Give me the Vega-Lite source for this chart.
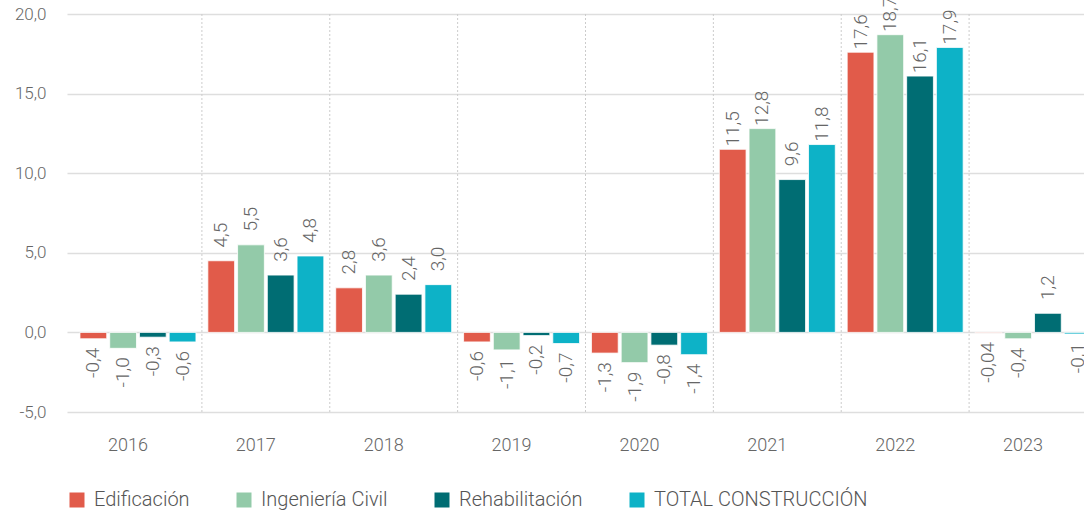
{
  "$schema": "https://vega.github.io/schema/vega-lite/v6.json",
  "width": 1017,
  "height": 398,
  "autosize": "none",
  "padding": {"left": 67, "top": 14, "right": 0, "bottom": 98},
  "background": "#ffffff",
  "config": {
    "locale": {"number": {"decimal": ",", "thousands": ".", "grouping": [3], "currency": ["", " €"], "minus": "-"}},
    "view": {"stroke": null},
    "font": "Roboto"
  },
  "data": {
    "values": [
      {"year": "2016", "serie": "Edificación", "value": -0.4, "label": "-0,4"},
      {"year": "2016", "serie": "Ingeniería Civil", "value": -1.0, "label": "-1,0"},
      {"year": "2016", "serie": "Rehabilitación", "value": -0.3, "label": "-0,3"},
      {"year": "2016", "serie": "TOTAL CONSTRUCCIÓN", "value": -0.6, "label": "-0,6"},
      {"year": "2017", "serie": "Edificación", "value": 4.5, "label": "4,5"},
      {"year": "2017", "serie": "Ingeniería Civil", "value": 5.5, "label": "5,5"},
      {"year": "2017", "serie": "Rehabilitación", "value": 3.6, "label": "3,6"},
      {"year": "2017", "serie": "TOTAL CONSTRUCCIÓN", "value": 4.8, "label": "4,8"},
      {"year": "2018", "serie": "Edificación", "value": 2.8, "label": "2,8"},
      {"year": "2018", "serie": "Ingeniería Civil", "value": 3.6, "label": "3,6"},
      {"year": "2018", "serie": "Rehabilitación", "value": 2.4, "label": "2,4"},
      {"year": "2018", "serie": "TOTAL CONSTRUCCIÓN", "value": 3.0, "label": "3,0"},
      {"year": "2019", "serie": "Edificación", "value": -0.6, "label": "-0,6"},
      {"year": "2019", "serie": "Ingeniería Civil", "value": -1.1, "label": "-1,1"},
      {"year": "2019", "serie": "Rehabilitación", "value": -0.2, "label": "-0,2"},
      {"year": "2019", "serie": "TOTAL CONSTRUCCIÓN", "value": -0.7, "label": "-0,7"},
      {"year": "2020", "serie": "Edificación", "value": -1.3, "label": "-1,3"},
      {"year": "2020", "serie": "Ingeniería Civil", "value": -1.9, "label": "-1,9"},
      {"year": "2020", "serie": "Rehabilitación", "value": -0.8, "label": "-0,8"},
      {"year": "2020", "serie": "TOTAL CONSTRUCCIÓN", "value": -1.4, "label": "-1,4"},
      {"year": "2021", "serie": "Edificación", "value": 11.5, "label": "11,5"},
      {"year": "2021", "serie": "Ingeniería Civil", "value": 12.8, "label": "12,8"},
      {"year": "2021", "serie": "Rehabilitación", "value": 9.6, "label": "9,6"},
      {"year": "2021", "serie": "TOTAL CONSTRUCCIÓN", "value": 11.8, "label": "11,8"},
      {"year": "2022", "serie": "Edificación", "value": 17.6, "label": "17,6"},
      {"year": "2022", "serie": "Ingeniería Civil", "value": 18.7, "label": "18,7"},
      {"year": "2022", "serie": "Rehabilitación", "value": 16.1, "label": "16,1"},
      {"year": "2022", "serie": "TOTAL CONSTRUCCIÓN", "value": 17.9, "label": "17,9"},
      {"year": "2023", "serie": "Edificación", "value": -0.04, "label": "-0,04"},
      {"year": "2023", "serie": "Ingeniería Civil", "value": -0.4, "label": "-0,4"},
      {"year": "2023", "serie": "Rehabilitación", "value": 1.2, "label": "1,2"},
      {"year": "2023", "serie": "TOTAL CONSTRUCCIÓN", "value": -0.1, "label": "-0,1"}
    ]
  },
  "encoding": {
    "x": {
      "field": "year", "type": "nominal", "title": null,
      "scale": {"type": "band", "paddingInner": 0, "paddingOuter": 0.055, "range": [0, 1037]},
      "axis": {
        "labelAngle": 0, "labelOffset": -10, "labelPadding": 24, "labelFontSize": 18, "labelColor": "#666666",
        "labelFont": "Roboto", "labelFontWeight": 300,
        "domain": false, "ticks": false, "grid": false
      }
    }
  },
  "layer": [
    {
      "transform": [{"filter": "datum.serie === 'Edificación'"}],
      "mark": {"type": "rule", "color": "#cccccc", "strokeDash": [2, 2], "strokeWidth": 1},
      "encoding": {
        "x": {"field": "year", "type": "nominal", "bandPosition": 1}
      }
    },
    {
      "mark": {"type": "bar", "stroke": "#ffffff", "strokeWidth": 0.8},
      "encoding": {
        "xOffset": {
          "field": "serie", "type": "nominal",
          "sort": ["Edificación", "Ingeniería Civil", "Rehabilitación", "TOTAL CONSTRUCCIÓN"],
          "scale": {"paddingInner": 0.1, "paddingOuter": 0.2}
        },
        "y": {
          "field": "value", "type": "quantitative", "title": null,
          "scale": {"domain": [-5, 20], "nice": false, "zero": false},
          "axis": {
            "values": [-5, 0, 5, 10, 15, 20], "format": ".1f",
            "labelFontSize": 17, "labelColor": "#666666", "labelFont": "Roboto", "labelFontWeight": 300,
            "labelPadding": 21, "domain": false, "ticks": false,
            "grid": true, "gridColor": "#dedede", "gridWidth": 1.5
          }
        },
        "color": {
          "field": "serie", "type": "nominal",
          "scale": {
            "domain": ["Edificación", "Ingeniería Civil", "Rehabilitación", "TOTAL CONSTRUCCIÓN"],
            "range": ["#e15b4a", "#93caa9", "#006d73", "#0db2c7"]
          },
          "legend": {
            "title": null, "orient": "none", "direction": "horizontal", "columns": 4,
            "legendX": 0, "legendY": 476, "padding": 0,
            "symbolType": "square", "symbolSize": 225, "symbolStrokeWidth": 0, "symbolOpacity": 1,
            "labelFontSize": 20, "labelColor": "#555555", "labelFont": "Roboto", "labelFontWeight": 300,
            "labelOffset": 7, "columnPadding": 44, "labelLimit": 400
          }
        }
      }
    },
    {
      "transform": [{"filter": "datum.value >= 0"}],
      "mark": {"type": "text", "angle": 270, "align": "right", "baseline": "middle", "dx": 38, "fontSize": 19, "font": "Roboto", "fontWeight": 300, "color": "#666666"},
      "encoding": {
        "xOffset": {
          "field": "serie", "type": "nominal",
          "sort": ["Edificación", "Ingeniería Civil", "Rehabilitación", "TOTAL CONSTRUCCIÓN"]
        },
        "y": {"field": "value", "type": "quantitative"},
        "text": {"field": "label"}
      }
    },
    {
      "transform": [{"filter": "datum.value < 0"}],
      "mark": {"type": "text", "angle": 270, "align": "right", "baseline": "middle", "dx": -9, "fontSize": 19, "font": "Roboto", "fontWeight": 300, "color": "#666666"},
      "encoding": {
        "xOffset": {
          "field": "serie", "type": "nominal",
          "sort": ["Edificación", "Ingeniería Civil", "Rehabilitación", "TOTAL CONSTRUCCIÓN"]
        },
        "y": {"field": "value", "type": "quantitative"},
        "text": {"field": "label"}
      }
    }
  ]
}
